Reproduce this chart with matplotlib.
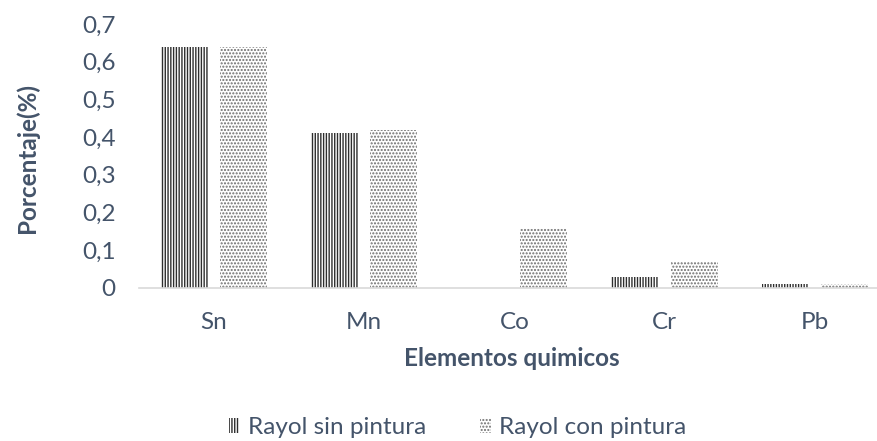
import matplotlib.pyplot as plt
import matplotlib.patches as mpatches
import numpy as np

elementos = ['Sn', 'Mn', 'Co', 'Cr', 'Pb']
sin_pintura = [0.64, 0.41, 0.0, 0.03, 0.01]
con_pintura = [0.64, 0.42, 0.16, 0.07, 0.01]
yticks = [0, 0.1, 0.2, 0.3, 0.4, 0.5, 0.6, 0.7]
ytick_labels = ['0', '0,1', '0,2', '0,3', '0,4', '0,5', '0,6', '0,7']

txt = '#44546A'
plt.rcParams['font.family'] = ['Lato', 'DejaVu Sans']
plt.rcParams['hatch.linewidth'] = 1.0

fig = plt.figure(figsize=(8.78, 4.41), dpi=100)
ax = fig.add_axes([0.1583, 0.347, 0.855, 0.5986])

x = np.arange(len(elementos))
w = 0.313
off = 0.197
ax.bar(x - off, sin_pintura, w, facecolor='white', edgecolor='#2e2e2e',
       hatch='||||||', linewidth=0)
ax.bar(x + off, con_pintura, w, facecolor='white', edgecolor='#6e6e6e',
       hatch='.....', linewidth=0)

ax.set_xlim(-0.5, 4.5)
ax.set_ylim(0, 0.7)
ax.set_yticks(yticks)
ax.set_yticklabels(ytick_labels)
ax.set_xticks(x)
ax.set_xticklabels(elementos)
ax.tick_params(length=0, labelsize=17.5, colors=txt)
ax.tick_params(axis='y', pad=17)
ax.tick_params(axis='x', pad=17)
for s in ['top', 'right', 'left']:
    ax.spines[s].set_visible(False)
ax.spines['bottom'].set_color('#D9D9D9')
ax.spines['bottom'].set_linewidth(1.2)

fig.text(0.031, 0.642, 'Porcentaje(%)', rotation=90, ha='center', va='center',
         fontsize=17.5, fontweight='bold', color=txt)
fig.text(0.583, 0.188, 'Elementos quimicos', ha='center', va='center',
         fontsize=17.5, fontweight='bold', color=txt)

h1 = mpatches.Patch(facecolor='white', edgecolor='#2e2e2e', hatch='||||||', linewidth=0)
h2 = mpatches.Patch(facecolor='white', edgecolor='#6e6e6e', hatch='.....', linewidth=0)
leg = fig.legend([h1, h2], ['Rayol sin pintura', 'Rayol con pintura'],
                 loc='center', bbox_to_anchor=(0.521, 0.03), ncol=2, frameon=False,
                 fontsize=17.5, handlelength=0.45, handleheight=0.6, handletextpad=0.35,
                 columnspacing=2.2)
for t in leg.get_texts():
    t.set_color(txt)

fig.savefig('out.png', dpi=100)
